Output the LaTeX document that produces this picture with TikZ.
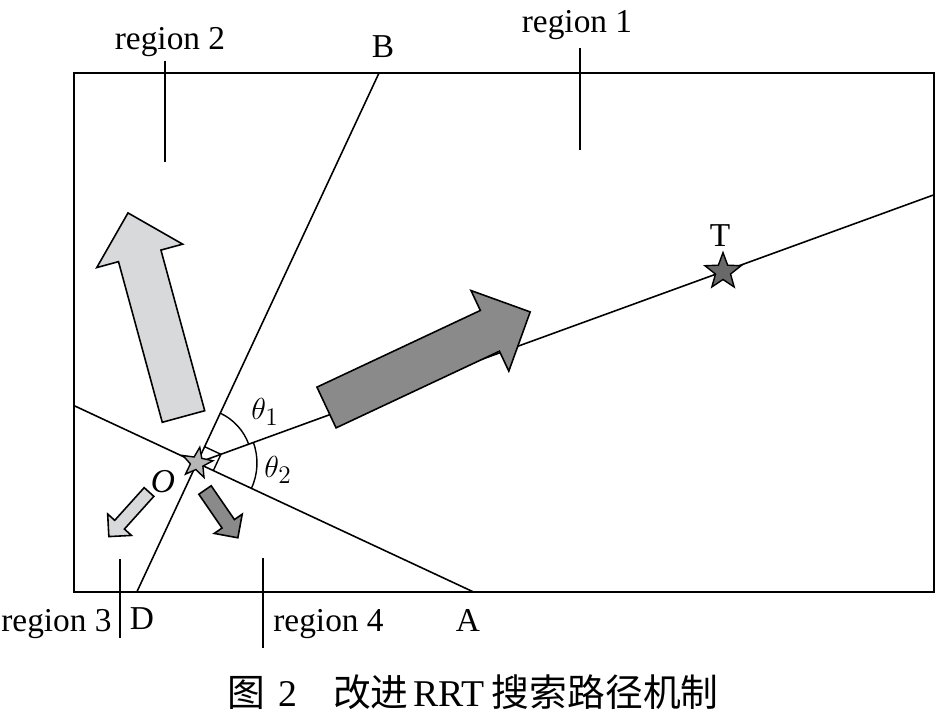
\documentclass[tikz,border=0pt]{standalone}
\usepackage{amsmath}
\usepackage{fontspec}
\setmainfont{Liberation Serif}
\newfontfamily\cjkfont{Noto Sans CJK SC}
\usepackage{tikz}
\usetikzlibrary{shapes.geometric,calc}
\definecolor{lightarrow}{RGB}{216,217,219}
\definecolor{darkarrow}{RGB}{138,138,138}
\definecolor{ostar}{RGB}{182,182,182}
\definecolor{tstar}{RGB}{105,105,105}
% tail, angle, length, half shaft, half head, fill
\newcommand{\regionarrow}[6]{%
  \begin{scope}[shift={#1},rotate=#2]
    \filldraw [fill=#6, draw=black, line width=0.9pt, line join=miter]
      (0,-#4) -- (#3-#5,-#4) -- (#3-#5,-#5) -- (#3,0)
      -- (#3-#5,#5) -- (#3-#5,#4) -- (0,#4) -- cycle;
  \end{scope}}

\begin{document}
\begin{tikzpicture}[x=0.02cm,y=0.02cm]
\tikzstyle{every node}+=[inner sep=0pt, font=\fontsize{19}{22}\selectfont]
\useasboundingbox (0,0) rectangle (942,721);
\draw [black, line width=1.2pt] (74,129) rectangle (934,648);
\coordinate (O) at (197,258);
\coordinate (B) at (379,648);
\coordinate (A) at (473.6,129);
\coordinate (D) at (136.8,129);
\coordinate (L) at (74,315.4);
\coordinate (R) at (934,526.2);
\coordinate (T) at (723,449.4);
\draw [black, line width=0.9pt] (D) -- (B);
\draw [black, line width=0.9pt] (L) -- (A);
\draw [black, line width=0.9pt] (O) -- (R);
% angles
\draw [black, line width=0.8pt] ($(O)+(20:55)$) arc (20:65:55);
\draw [black, line width=0.8pt] ($(O)+(-25:60)$) arc (-25:20:60);
\draw [black, line width=0.8pt] ($(O)+(65:18)$) -- ++(-25:18) -- ++(245:18);
% search directions
\regionarrow{(183.5,304.5)}{105.25}{211}{22}{44.5}{lightarrow}
\regionarrow{(326.5,313.5)}{25.14}{225}{22.5}{44.5}{darkarrow}
\regionarrow{(149,229)}{228}{60}{6.5}{16}{lightarrow}
\regionarrow{(205,231)}{-55.5}{58}{7.5}{17}{darkarrow}
% start and target
\node (Ostar) at (O) [star, star points=5, star point ratio=2.4, minimum size=0.64cm,
  shape border rotate=-10, draw=black, line width=0.8pt, fill=ostar] {};
\node (Tstar) at (T) [star, star points=5, star point ratio=2.4, minimum size=0.76cm,
  draw=black, line width=0.8pt, fill=tstar] {};
\node (labB) at (383,663) [anchor=base] {B};
\node (labA) at (468,90) [anchor=base] {A};
\node (labD) at (142,92) [anchor=base] {D};
\node (labT) at (720,475) [anchor=base] {T};
\node (labO) at (163,239) {\textit{O}};
\node (th1) at (265,309) {$\theta_1$};
\node (th2) at (278,251) {$\theta_2$};
% regions
\node (reg1) at (577,688) [anchor=base] {region 1};
\node (reg2) at (170,671) [anchor=base] {region 2};
\node (reg3) at (112,90) [anchor=base east] {region 3};
\node (reg4) at (273,90) [anchor=base west] {region 4};
\coordinate (r1a) at (580,673);
\coordinate (r1b) at (580,571);
\coordinate (r2a) at (165,660);
\coordinate (r2b) at (165,559);
\coordinate (r3a) at (120,162);
\coordinate (r3b) at (120,83);
\coordinate (r4a) at (263,163);
\coordinate (r4b) at (263,73);
\draw [black, line width=0.9pt] (r1a) -- (r1b);
\draw [black, line width=0.9pt] (r2a) -- (r2b);
\draw [black, line width=0.9pt] (r3a) -- (r3b);
\draw [black, line width=0.9pt] (r4a) -- (r4b);
\node (caption) at (473,29) [font=\fontsize{21.5}{25}\selectfont]
  {{\cjkfont 图}\hspace{0.35em}2\hspace{0.95em}{\cjkfont 改进}\hspace{0.12em}RRT\hspace{0.2em}{\cjkfont 搜索路径机制}};
\end{tikzpicture}
\end{document}
